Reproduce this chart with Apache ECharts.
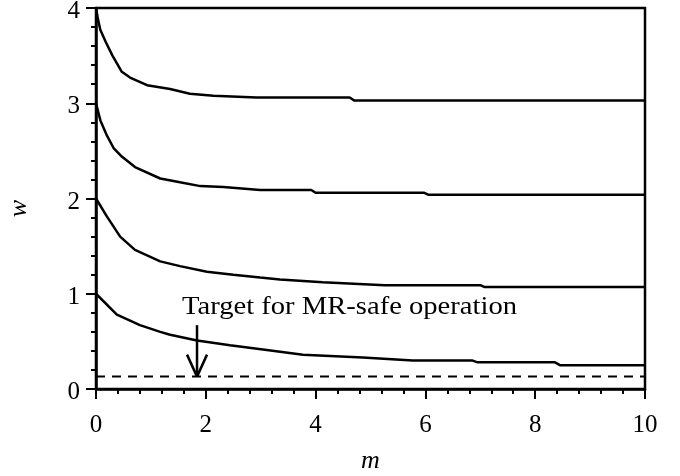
<!DOCTYPE html>
<html>
<head>
<meta charset="utf-8">
<script src="https://cdn.jsdelivr.net/npm/echarts@6.0.0/dist/echarts.min.js"></script>
<style>
	html, body { margin: 0; padding: 0; background: #fff; }
	#chart { width: 680px; height: 476px; }
</style>
</head>
<body>
<div id="chart"></div>
<script>
	// curves, one m / w pair per curve
	const m1 = [0, 0.04, 0.08, 0.18, 0.3, 0.47, 0.62, 0.93, 1.35, 1.71, 2.14, 2.92, 4.62, 4.7, 10]
	const w1 = [4.0, 3.87, 3.77, 3.64, 3.5, 3.33, 3.27, 3.19, 3.15, 3.10, 3.08, 3.06, 3.06, 3.03, 3.03]
	const m2 = [0, 0.08, 0.2, 0.32, 0.47, 0.71, 1.17, 1.53, 1.9, 2.32, 2.99, 3.92, 4.0, 5.98, 6.05, 10]
	const w2 = [3.0, 2.82, 2.66, 2.53, 2.44, 2.33, 2.21, 2.17, 2.13, 2.12, 2.09, 2.09, 2.06, 2.06, 2.04, 2.04]
	const m3 = [0, 0.2, 0.44, 0.71, 1.17, 1.53, 2.02, 2.5, 2.99, 3.35, 4.13, 5.26, 7.0, 7.08, 10]
	const w3 = [2.0, 1.81, 1.60, 1.46, 1.34, 1.29, 1.23, 1.20, 1.17, 1.15, 1.12, 1.09, 1.09, 1.07, 1.07]
	const m4 = [0, 0.38, 0.8, 1.17, 1.35, 1.84, 2.44, 3.11, 3.77, 4.86, 5.77, 6.85, 6.95, 8.36, 8.45, 10]
	const w4 = [1.0, 0.78, 0.67, 0.60, 0.57, 0.51, 0.46, 0.41, 0.36, 0.33, 0.30, 0.30, 0.28, 0.28, 0.25, 0.25]

	// target line and arrow
	const targetW = 0.13
	const arrowM = 1.84
	const arrowTopW = 0.67
	const targetText = 'Target for MR-safe operation'

	const serif = "'Liberation Serif', 'Times New Roman', serif"
	const lw = 2.5

	const pairs = (xs, ys) => xs.map((x, i) => [x, ys[i]])

	const lineSeries = (data) => ({
		type: 'line',
		data: data,
		symbol: 'none',
		silent: true,
		lineStyle: { color: '#000', width: lw },
		z: 3
	})

	const myChart = echarts.init(document.getElementById('chart'), null, { renderer: 'canvas' })

	const option = {
		animation: false,
		backgroundColor: '#fff',
		grid: {
			left: 96,
			right: 35,
			top: 8,
			bottom: 87,
			containLabel: false,
			outerBoundsMode: 'none',
			show: true,
			borderColor: '#000',
			borderWidth: lw,
			backgroundColor: 'transparent'
		},
		xAxis: {
			type: 'value',
			min: 0,
			max: 10,
			interval: 2,
			name: 'm',
			nameLocation: 'middle',
			nameGap: 59,
			nameTextStyle: { fontFamily: serif, fontStyle: 'italic', fontSize: 26, color: '#000' },
			axisLine: { show: true, onZero: false, lineStyle: { color: '#000', width: lw } },
			axisTick: { show: true, length: 10, lineStyle: { color: '#000', width: 2 } },
			minorTick: { show: true, splitNumber: 5, length: 5, lineStyle: { color: '#000', width: 2 } },
			splitLine: { show: false },
			axisLabel: { fontFamily: serif, fontSize: 25, color: '#000', margin: 24 }
		},
		yAxis: {
			type: 'value',
			min: 0,
			max: 4,
			interval: 1,
			name: 'w',
			nameLocation: 'middle',
			nameRotate: 90,
			nameGap: 64,
			nameTextStyle: { fontFamily: serif, fontStyle: 'italic', fontSize: 26, color: '#000', padding: [0, 20, 0, 0] },
			axisLine: { show: true, onZero: false, lineStyle: { color: '#000', width: lw } },
			axisTick: { show: true, length: 10, lineStyle: { color: '#000', width: 2 } },
			minorTick: { show: true, splitNumber: 5, length: 5, lineStyle: { color: '#000', width: 2 } },
			splitLine: { show: false },
			axisLabel: { fontFamily: serif, fontSize: 25, color: '#000', margin: 16, verticalAlign: 'top', lineHeight: 25, padding: [-9, 0, 0, 0] }
		},
		series: [
			lineSeries(pairs(m1, w1)),
			lineSeries(pairs(m2, w2)),
			lineSeries(pairs(m3, w3)),
			lineSeries(pairs(m4, w4)),
			{
				// dashed target level
				type: 'line',
				data: [[0, targetW], [10, targetW]],
				symbol: 'none',
				silent: true,
				lineStyle: { color: '#000', width: 2, type: [9, 7] },
				z: 2
			},
			{
				// arrow + label
				type: 'custom',
				silent: true,
				data: [[arrowM, arrowTopW, targetW]],
				renderItem: function (params, api) {
					const top = api.coord([api.value(0), api.value(1)])
					const tip = api.coord([api.value(0), api.value(2)])
					const st = { stroke: '#000', lineWidth: lw }
					return {
						type: 'group',
						children: [
							{ type: 'line', shape: { x1: top[0], y1: top[1], x2: tip[0], y2: tip[1] }, style: st },
							{ type: 'line', shape: { x1: tip[0] - 10, y1: tip[1] - 22, x2: tip[0], y2: tip[1] }, style: st },
							{ type: 'line', shape: { x1: tip[0] + 10, y1: tip[1] - 22, x2: tip[0], y2: tip[1] }, style: st },
							{
								type: 'text',
								x: top[0] - 15,
								y: top[1] - 18,
								scaleX: 1.1,
								style: {
									text: targetText,
									font: '26px ' + serif,
									fill: '#000',
									align: 'left',
									verticalAlign: 'middle'
								}
							}
						]
					}
				},
				z: 4
			}
		]
	}

	myChart.setOption(option)
</script>
</body>
</html>
